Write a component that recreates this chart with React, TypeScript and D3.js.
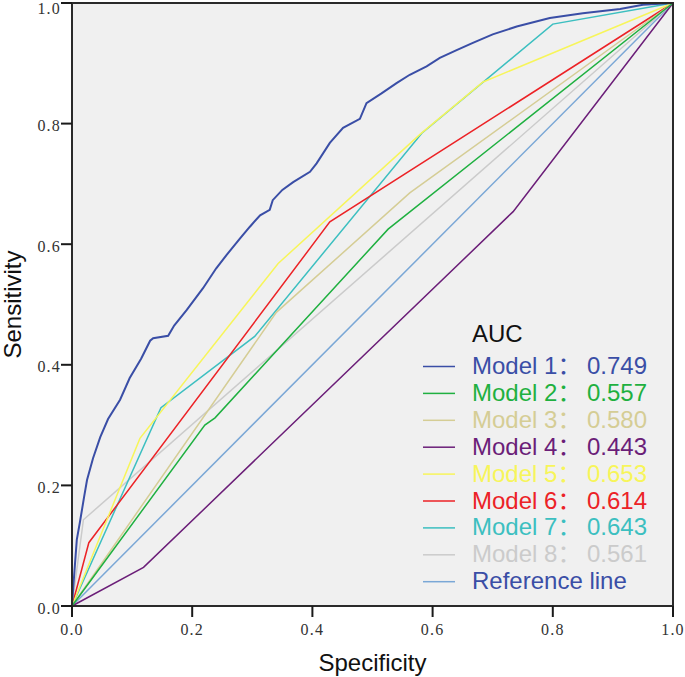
import React from 'react';
import * as d3 from 'd3';

// ROC curve points: [1 - specificity, sensitivity]
const model1 = [
  [0, 0], [0.002, 0.03], [0.008, 0.11], [0.013, 0.138], [0.02, 0.18], [0.025, 0.209],
  [0.035, 0.245], [0.047, 0.28], [0.06, 0.31], [0.08, 0.342], [0.096, 0.378],
  [0.115, 0.41], [0.13, 0.44], [0.135, 0.444], [0.16, 0.448], [0.17, 0.465],
  [0.191, 0.491], [0.218, 0.527], [0.24, 0.56], [0.257, 0.582], [0.28, 0.61],
  [0.296, 0.629], [0.313, 0.648], [0.329, 0.657], [0.334, 0.673], [0.35, 0.69],
  [0.368, 0.703], [0.396, 0.72], [0.407, 0.734], [0.429, 0.768], [0.451, 0.793],
  [0.479, 0.808], [0.49, 0.834], [0.515, 0.85], [0.54, 0.867], [0.562, 0.881],
  [0.59, 0.895], [0.612, 0.909], [0.64, 0.922], [0.667, 0.934], [0.7, 0.948],
  [0.74, 0.961], [0.795, 0.975], [0.85, 0.983], [0.912, 0.99], [0.95, 0.997], [1, 1],
];
const model2 = [[0, 0], [0.221, 0.3], [0.238, 0.312], [0.526, 0.625], [1, 1]];
const model3 = [[0, 0], [0.34, 0.487], [0.562, 0.685], [1, 1]];
const model4 = [[0, 0], [0.119, 0.064], [0.734, 0.654], [1, 1]];
const model5 = [[0, 0], [0.113, 0.278], [0.343, 0.568], [0.58, 0.783], [0.684, 0.869], [1, 1]];
const model6 = [[0, 0], [0.028, 0.105], [0.429, 0.637], [1, 1]];
const model7 = [[0, 0], [0.148, 0.329], [0.304, 0.447], [0.582, 0.784], [0.8, 0.965], [1, 1]];
const model8 = [[0, 0], [0.019, 0.143], [1, 1]];
const reference = [[0, 0], [1, 1]];

const names = ['Model 1', 'Model 2', 'Model 3', 'Model 4', 'Model 5', 'Model 6', 'Model 7', 'Model 8'];
const aucs = ['0.749', '0.557', '0.580', '0.443', '0.653', '0.614', '0.643', '0.561'];
const curves = [model1, model2, model3, model4, model5, model6, model7, model8];
const lineColors = ['#3a4ea6', '#1fb040', '#d5cd95', '#6b1e78', '#f7f55a', '#ec2226', '#3cbfc0', '#cbcbcb'];
const ticks = [0, 0.2, 0.4, 0.6, 0.8, 1.0];

const W = 685;
const H = 677;
const left = 72, right = 673, top = 3, bottom = 606;

export default function App() {
  const x = d3.scaleLinear().domain([0, 1]).range([left, right]);
  const y = d3.scaleLinear().domain([0, 1]).range([bottom, top]);
  const line = d3.line<number[]>().x(d => x(d[0])).y(d => y(d[1]));

  const sans = '"Liberation Sans", Arial, "Noto Sans CJK SC", sans-serif';
  const serif = '"Liberation Serif", "Times New Roman", serif';

  const legendX = 472;
  const firstRow = 374;
  const rowGap = 26.9;

  return (
    <svg width={W} height={H} style={{ position: 'absolute', left: 0, top: 0, background: '#fff' }}>
      <rect x={left} y={top} width={right - left} height={bottom - top} fill="#f0f0f0" />

      {/* reference line below the models */}
      <path d={line(reference) || ''} fill="none" stroke="#7aa7d6" strokeWidth={1.5} />
      {curves.slice(1).reverse().map((c, i) => (
        <path key={i} d={line(c) || ''} fill="none"
          stroke={lineColors[curves.length - 1 - i]} strokeWidth={1.5} />
      ))}
      <path d={line(model1) || ''} fill="none" stroke={lineColors[0]} strokeWidth={2} />

      <rect x={left} y={top} width={right - left} height={bottom - top}
        fill="none" stroke="#2a2a2a" strokeWidth={2} />

      {/* y axis */}
      {ticks.map(t => (
        <g key={'y' + t}>
          <line x1={left - 11} x2={left} y1={y(t)} y2={y(t)} stroke="#1a1a1a" strokeWidth={2} />
          <text x={left - 11} y={Math.max(y(t) + 2, 8)} dy="0.35em" textAnchor="end"
            fontFamily={serif} fontSize={16} letterSpacing={1.2} fill="#333">
            {t.toFixed(1)}
          </text>
        </g>
      ))}
      {/* x axis */}
      {ticks.map(t => (
        <g key={'x' + t}>
          <line x1={x(t)} x2={x(t)} y1={bottom} y2={bottom + 11} stroke="#1a1a1a" strokeWidth={2} />
          <text x={x(t)} y={bottom + 23} dy="0.35em" textAnchor="middle"
            fontFamily={serif} fontSize={16} letterSpacing={1.2} fill="#333">
            {t.toFixed(1)}
          </text>
        </g>
      ))}

      <text x={(left + right) / 2} y={671} textAnchor="middle" fontFamily={sans} fontSize={24} fill="#111">
        Specificity
      </text>
      <text transform={`translate(21,${(top + bottom) / 2}) rotate(-90)`} textAnchor="middle"
        fontFamily={sans} fontSize={24} fill="#111">
        Sensitivity
      </text>

      {/* legend */}
      <text x={legendX} y={342} fontFamily={sans} fontSize={24} fill="#111">AUC</text>
      {names.map((n, i) => (
        <g key={n}>
          <line x1={423} x2={455} y1={firstRow + i * rowGap - 7.5} y2={firstRow + i * rowGap - 7.5}
            stroke={lineColors[i]} strokeWidth={1.5} />
          <text x={legendX} y={firstRow + i * rowGap} fontFamily={sans} fontSize={24} fill={lineColors[i]}>
            {n}：<tspan x={587}>{aucs[i]}</tspan>
          </text>
        </g>
      ))}
      <line x1={423} x2={455} y1={firstRow + 8 * rowGap - 7.5} y2={firstRow + 8 * rowGap - 7.5}
        stroke="#7aa7d6" strokeWidth={1.5} />
      <text x={legendX} y={firstRow + 8 * rowGap} fontFamily={sans} fontSize={24} fill={lineColors[0]}>
        Reference line
      </text>
    </svg>
  );
}
